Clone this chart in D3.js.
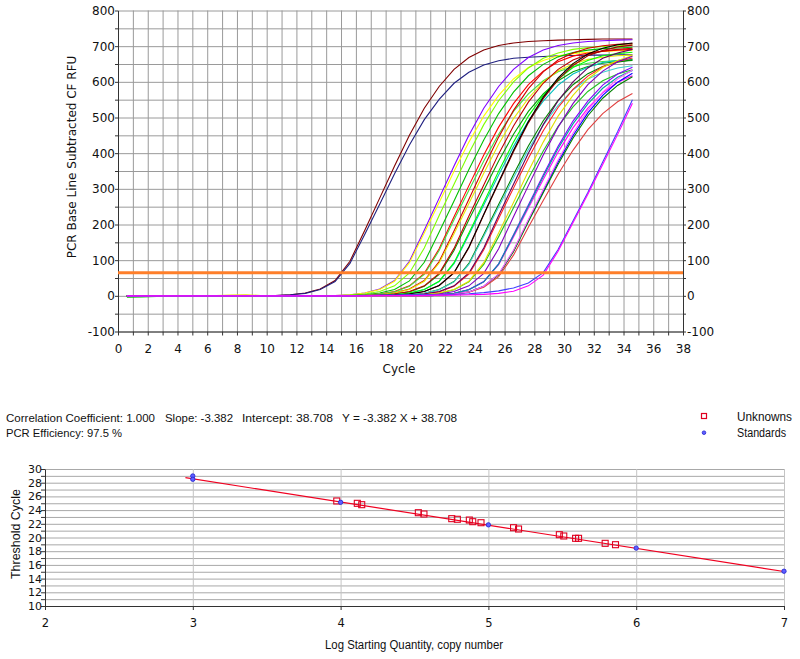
<!DOCTYPE html>
<html><head><meta charset="utf-8">
<script src="https://cdn.jsdelivr.net/npm/d3@7"></script>
<style>body{margin:0;background:#fff}svg{display:block}</style>
</head><body><svg id="c" width="800" height="659"></svg>
<script>
// ---------- Amplification data ----------
const cycles = [0.6,1.6,2.6,3.6,4.6,5.6,6.6,7.6,8.6,9.6,10.6,11.6,12.6,13.6,14.6,15.6,16.6,17.6,18.6,19.6,20.6,21.6,22.6,23.6,24.6,25.6,26.6,27.6,28.6,29.6,30.6,31.6,32.6,33.6,34.6];
const curveColors = ["#800000","#202080","#8000ff","#ffff00","#80ff00","#00c000","#ff0000","#40e040","#d00000","#e8e800","#00a000","#c00000","#00c0c0","#00ff00","#a00000","#000000","#008000","#40d0d0","#ff2020","#600060","#20c020","#e0e000","#8000c0","#ff00ff","#8000ff","#00a0a0","#0000ff","#008000","#e04040","#ff60ff","#4040ff","#ff00ff"];
const rfuSeries = [
 [0,0,0,0,0, 0,0,0,0,0, 1,3,8,19,43,97,184,274,364,450,526,587,635,668,689,702,709,713,715,717,718,719,720,720,720],
 [0,0,0,0,0, 0,0,0,0,0, 1,3,7,18,40,91,173,257,342,423,494,551,596,627,647,659,666,669,671,673,674,675,675,676,676],
 [0,0,0,0,0, 0,0,0,0,0, 0,0,0,0, 1,3,8,19,43,97,184,274,364,450,526,587,635,668,689,702,709,713,715,717,718],
 [0,0,0,0,0, 0,0,0,0,0, 0,0,0,0, 1,3,8,18,41,93,176,262,349,431,504,562,608,640,660,673,679,683,685,687,688],
 [0,0,0,0,0, 0,0,0,0,0, 0,0,0,0,0, 2,5,12,28,64,134,225,313,400,480,547,600,639,666,681,691,696,699,701,703],
 [-4,-3,-2,-1,0, 0,1,0,-1,-2, -2,-2,-1,0,1, 1,3,8,18,42,94,179,266,354,437,511,571,617,649,670,682,689,693,695,697],
 [0,0,0,0,0, 0,0,0,0,0, 0,0,0,0,0, 0, 2,5,12,28,63,132,222,309,395,473,539,592,630,656,672,681,686,689,691],
 [0,0,0,0,0, 0,0,0,0,0, 0,0,0,0,0, 0, 2,5,11,27,60,127,213,296,378,453,517,566,603,628,643,652,657,660,662],
 [0,0,0,0,0, 0,0,0,0,0, 0,0,0,0,0, 0, 1,3,8,19,43,96,182,271,360,445,520,581,628,661,681,694,701,705,707],
 [0,0,0,0,0, 0,1,2,3,1, 0,0,0,0,0, 0, 1,3,8,18,41,92,174,259,344,425,497,554,599,631,650,663,669,673,675],
 [0,0,0,0,0, 0,0,0,0,0, 0,0,0,0,0, 0,0, 2,5,11,27,60,127,213,296,378,453,517,566,603,628,643,652,657,660],
 [0,0,0,0,0, 0,0,0,0,0, 0,0,0,0,0, 0,0, 2,5,12,28,63,133,224,311,398,476,543,596,635,661,677,686,691,694],
 [0,0,1,1,1, 1,1,0,0,0, 0,0,0,0,0, 0,0, 1,3,7,18,40,90,171,255,339,419,490,546,591,622,641,654,660,664],
 [0,0,0,0,0, 0,0,0,0,0, 0,0,0,0,0, 0,0, 1,3,8,18,41,93,176,262,349,431,504,562,608,640,660,673,679,683],
 [0,0,0,0,0, 0,0,0,0,0, 0,0,0,0,0, 0,0,0, 2,5,12,29,64,135,227,316,404,485,553,606,646,673,688,698,703],
 [0,0,0,0,0, 0,0,0,0,0, 0,0,0,0,0, 0,0,0, 2,5,12,29,65,137,229,319,408,489,557,611,651,678,694,704,709],
 [0,0,0,0,0, 0,1,1,0,0, 0,0,0,0,0, 0,0,0, 1,3,7,18,40,91,172,256,340,420,491,548,592,623,643,655,662],
 [0,0,0,0,0, 0,0,0,0,0, 0,0,0,0,0, 0,0,0, 1,3,7,17,39,88,167,249,331,410,479,534,578,608,627,639,645],
 [0,0,0,0,0, 0,0,0,0,0, 0,0,0,0,0, 0,0,0,0, 2,5,11,27,61,129,217,302,386,463,528,579,616,642,657,667],
 [0,0,0,0,0, 0,0,0,0,0, 0,0,0,0,0, 0,0,0,0, 2,5,12,28,64,134,225,313,400,480,547,600,639,666,681,691],
 [0,0,0,0,0, 0,0,0,-1,-2, -2,-2,-1,0,0, 0,0,0,0, 1,3,7,17,39,88,166,247,329,406,475,530,573,603,622,634],
 [0,0,0,0,0, 0,0,0,0,0, 0,0,0,0,0, 0,0,0,0, 1,3,8,18,41,93,176,262,349,431,504,562,608,640,660,673],
 [0,0,0,0,0, 0,0,0,0,0, 0,0,0,0,0, 0,0,0,0,0, 2,5,12,28,63,132,222,309,395,473,539,592,630,656,672],
 [0,0,0,0,0, 0,0,0,0,0, 0,0,0,0,0, 0,0,0,0,0, 1,3,7,17,39,87,165,246,326,403,471,526,569,599,617],
 [0,0,0,0,0, 0,0,0,0,0, 0,0,0,0,0, 0,0,0,0,0, 1,3,7,18,40,90,171,255,339,419,490,546,591,622,641],
 [0,0,0,0,0, 0,0,0,0,0, 0,0,0,0,0, 0,0,0,0,0, 1,3,7,17,39,89,169,251,334,413,482,538,582,613,632],
 [0,0,0,0,0, 0,0,0,0,0, 0,0,0,0,0, 0,0,0,0,0, 0, 2,5,11,27,60,126,211,293,375,449,513,562,599,624],
 [0,0,0,0,0, 0,0,0,0,0, 0,0,0,0,0, 0,0,0,0,0, 0, 2,5,11,26,59,124,208,289,369,442,505,554,590,614],
 [0,0,0,0,0, 0,0,0,0,0, 0,0,0,0,0, 0,0,0,0,0, 0, 2,4,10,24,54,114,192,267,341,408,466,511,544,567],
 [0,0,0,0,0, 0,0,0,0,0, 0,0,0,0,0, 0,0,0,0,0, 0, 2,5,11,27,61,128,214,298,381,456,520,571,608,633],
 [0,0,0,0,0, 0,0,0,0,0, 0,0,0,0,0, 0,1,2,2,3, 3,3, 4,6,9,14,22,36,65,130,210,290,375,460,550],
 [0,0,0,0,0, 0,0,0,0,0, 0,0,0,0,0, 0,0,1,1,1, 1,2, 2,3,4,7,13,28,58,125,205,285,368,452,540]
];
const threshold = 65;

// ---------- Standard curve data ----------
const stdLog = [3,3,4,5,6,7];
const stdCt  = [28.98,28.5,25.14,21.85,18.45,15.08];
const unkLog = [3.974,4.113,4.143,4.526,4.564,4.752,4.79,4.871,4.894,4.95,5.17,5.204,5.48,5.51,5.59,5.61,5.79,5.86];
const unkCt  = [25.33,24.99,24.79,23.62,23.43,22.75,22.66,22.55,22.31,22.16,21.43,21.24,20.41,20.22,19.88,19.88,19.15,18.95];
const slope = -3.382, intercept = 38.708;
const fitRange = [2.95, 7];
const statsLine1 = [
  {t:"Correlation Coefficient: 1.000", x:6, w:149},
  {t:"Slope: -3.382", x:165, w:68},
  {t:"Intercept: 38.708", x:242, w:91},
  {t:"Y = -3.382 X + 38.708", x:342, w:115}
];
const statsLine2 = "PCR Efficiency: 97.5 %";
const legendItems = ["Unknowns","Standards"];

// ---------- Drawing ----------
const svg = d3.select("#c");
const FONT = '"DejaVu Sans", Verdana, sans-serif';
const FONT2 = '"Liberation Sans", Arial, sans-serif';

// ===== Top chart =====
const x1 = d3.scaleLinear().domain([0,38]).range([118,683]);
const y1 = d3.scaleLinear().domain([-100,800]).range([331.5,10.5]);
const topG = svg.append("g");
const gridC = "#9a9a9a";
topG.append("g").selectAll("line").data(d3.range(0,39)).join("line")
  .attr("x1",d=>x1(d)+0.5).attr("x2",d=>x1(d)+0.5)
  .attr("y1",y1(800)).attr("y2",y1(-100)).attr("stroke",gridC).attr("stroke-width",1);
topG.append("g").selectAll("line").data(d3.range(-100,801,50)).join("line")
  .attr("x1",x1(0)).attr("x2",x1(38))
  .attr("y1",d=>y1(d)+0.5).attr("y2",d=>y1(d)+0.5).attr("stroke",gridC).attr("stroke-width",1);

function styleAxis(g, fs, fam){
  g.select(".domain").attr("stroke","#333");
  g.selectAll(".tick line").attr("stroke","#333");
  g.selectAll(".tick text").attr("fill","#111").style("font-family",fam).style("font-size",fs+"px");
}
const fmtY = d => (d % 100 === 0 ? d : "");
const fmtX = d => (d % 2 === 0 ? d : "");
const ayL = topG.append("g").attr("transform","translate(118,0)")
  .call(d3.axisLeft(y1).tickValues(d3.range(-100,801,50)).tickSize(3).tickSizeOuter(0).tickPadding(0).tickFormat(fmtY));
styleAxis(ayL,12,FONT);
const ayR = topG.append("g").attr("transform","translate(683,0)")
  .call(d3.axisRight(y1).tickValues(d3.range(-100,801,50)).tickSize(3).tickSizeOuter(0).tickPadding(1).tickFormat(fmtY));
styleAxis(ayR,12,FONT);
const axB = topG.append("g").attr("transform","translate(0,331.5)")
  .call(d3.axisBottom(x1).tickValues(d3.range(0,39)).tickSize(4).tickSizeOuter(0).tickPadding(9).tickFormat(fmtX));
styleAxis(axB,12,FONT);

const line1 = d3.line().x((d,i)=>x1(cycles[i])).y(d=>y1(d));
topG.append("g").selectAll("path").data(rfuSeries).join("path")
  .attr("d",line1).attr("fill","none")
  .attr("stroke",(d,i)=>curveColors[i]).attr("stroke-width",1.1);

topG.append("line").attr("x1",x1(0)).attr("x2",x1(38))
  .attr("y1",y1(threshold)).attr("y2",y1(threshold))
  .attr("stroke","#ff7f2a").attr("stroke-width",3);

topG.append("text").attr("transform","translate(76,157) rotate(-90)")
  .attr("text-anchor","middle").style("font-family",FONT).style("font-size","12px").attr("fill","#111")
  .text("PCR Base Line Subtracted CF RFU");
topG.append("text").attr("x",399).attr("y",373).attr("text-anchor","middle")
  .style("font-family",FONT).style("font-size","12px").attr("fill","#111").text("Cycle");

// ===== Stats text & legend =====
svg.append("g").selectAll("text").data(statsLine1).join("text")
  .attr("x",d=>d.x).attr("y",422).attr("textLength",d=>d.w).attr("lengthAdjust","spacingAndGlyphs")
  .style("font-family",FONT2).style("font-size","11px").attr("fill","#111").text(d=>d.t);
svg.append("text").attr("x",6).attr("y",437).attr("textLength",116).attr("lengthAdjust","spacingAndGlyphs")
  .style("font-family",FONT2).style("font-size","11px").attr("fill","#111").text(statsLine2);

const leg = svg.append("g");
leg.append("rect").attr("x",701.5).attr("y",413.5).attr("width",5).attr("height",5)
  .attr("fill","none").attr("stroke","#e00020").attr("stroke-width",1.2);
leg.append("circle").attr("cx",704).attr("cy",432.7).attr("r",1.8)
  .attr("fill","#6060ff").attr("stroke","#2020d0").attr("stroke-width",0.8);
leg.selectAll("text").data(legendItems).join("text")
  .attr("x",737).attr("y",(d,i)=>421+i*15.5)
  .attr("textLength",(d,i)=>i===0?55:49).attr("lengthAdjust","spacingAndGlyphs")
  .style("font-family",FONT2).style("font-size","12px").attr("fill","#111").text(d=>d);

// ===== Bottom chart =====
const x2 = d3.scaleLinear().domain([2,7]).range([45,784]);
const y2 = d3.scaleLinear().domain([10,30]).range([606,469]);
const bot = svg.append("g");
bot.append("g").selectAll("line").data(d3.range(10,31)).join("line")
  .attr("x1",x2(2)).attr("x2",x2(7)).attr("y1",d=>y2(d)+0.5).attr("y2",d=>y2(d)+0.5)
  .attr("stroke","#a8a8a8").attr("stroke-width",1);
bot.append("g").selectAll("line").data([3,4,5,6,7]).join("line")
  .attr("x1",d=>x2(d)+0.5).attr("x2",d=>x2(d)+0.5).attr("y1",y2(30)).attr("y2",y2(10))
  .attr("stroke","#c4c4c4").attr("stroke-width",1);
const b2L = bot.append("g").attr("transform","translate(45,0)")
  .call(d3.axisLeft(y2).tickValues(d3.range(10,31)).tickSize(4).tickSizeOuter(0).tickPadding(-1).tickFormat(d=>d%2===0?d:""));
styleAxis(b2L,11,FONT);
const b2B = bot.append("g").attr("transform","translate(0,606)")
  .call(d3.axisBottom(x2).tickValues([2,3,4,5,6,7]).tickSize(4).tickSizeOuter(0).tickPadding(9).tickFormat(d3.format("d")));
styleAxis(b2B,11.5,FONT);

bot.append("line").attr("x1",x2(fitRange[0])).attr("x2",x2(fitRange[1]))
  .attr("y1",y2(slope*fitRange[0]+intercept)).attr("y2",y2(slope*fitRange[1]+intercept))
  .attr("stroke","#f00020").attr("stroke-width",1.2);

bot.append("g").selectAll("rect").data(unkLog).join("rect")
  .attr("x",(d)=>x2(d)-3).attr("y",(d,i)=>y2(unkCt[i])-3).attr("width",6).attr("height",6)
  .attr("fill","none").attr("stroke","#e00020").attr("stroke-width",1.1);
bot.append("g").selectAll("circle").data(stdLog).join("circle")
  .attr("cx",d=>x2(d)).attr("cy",(d,i)=>y2(stdCt[i])).attr("r",2.2)
  .attr("fill","#6060ff").attr("stroke","#2020d0").attr("stroke-width",0.8);

bot.append("text").attr("x",414).attr("y",649).attr("text-anchor","middle")
  .attr("textLength",178).attr("lengthAdjust","spacingAndGlyphs")
  .style("font-family",FONT2).style("font-size","12px").attr("fill","#111")
  .text("Log Starting Quantity, copy number");
bot.append("text").attr("transform","translate(20,534) rotate(-90)").attr("text-anchor","middle")
  .attr("textLength",90).attr("lengthAdjust","spacingAndGlyphs")
  .style("font-family",FONT2).style("font-size","12px").attr("fill","#111").text("Threshold Cycle");
</script></body></html>
